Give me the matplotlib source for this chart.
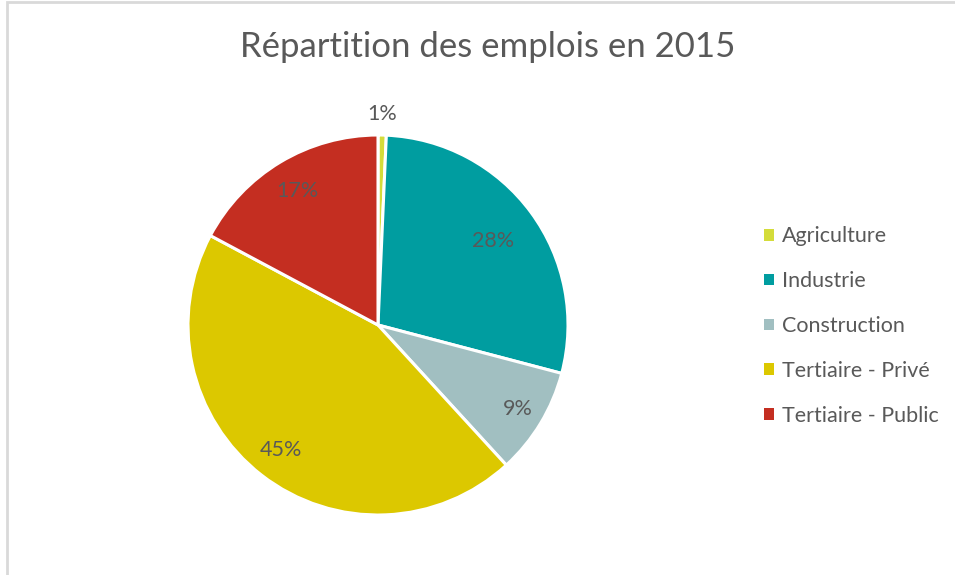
import numpy as np
import matplotlib.pyplot as plt
from matplotlib.patches import Rectangle

plt.rcParams['font.family'] = ['Lato', 'DejaVu Sans']

# Data
categories = ['Agriculture', 'Industrie', 'Construction', 'Tertiaire - Privé', 'Tertiaire - Public']
shares = [0.7, 28.4, 9.1, 44.6, 17.2]
colors = ['#d4dc3a', '#009da0', '#a1bfc1', '#dcc800', '#c42e21']

# label distance from centre (fraction of radius), Excel "best fit" look
label_dist = [1.11, 0.75, 0.86, 0.83, 0.82]
text_col = '#595959'

fig = plt.figure(figsize=(9.55, 5.75), dpi=100)

# light grey chart border (cropped on right/bottom)
fig.patches.append(Rectangle((6.5/955, -0.1), 1.2, (575-2.5)/575 + 0.1,
                             transform=fig.transFigure, fill=False,
                             edgecolor='#d9d9d9', linewidth=2))

ax = fig.add_axes([(378-190)/955, (250-190)/575, 380/955, 380/575])
wedges, texts, autotexts = ax.pie(shares, colors=colors, startangle=90, counterclock=False,
                                  autopct='%.0f%%', radius=1,
                                  wedgeprops=dict(edgecolor='white', linewidth=2.2),
                                  textprops=dict(color=text_col, fontsize=15.5))
for w, t, d in zip(wedges, autotexts, label_dist):
    ang = np.deg2rad((w.theta1 + w.theta2) / 2)
    t.set_position((d*np.cos(ang), d*np.sin(ang)))
ax.set_xlim(-1, 1)
ax.set_ylim(-1, 1)
ax.set_aspect('equal')
ax.axis('off')

fig.text(488/955, 1 - 47/575, 'Répartition des emplois en 2015', ha='center', va='center',
         fontsize=25, color=text_col)

leg = fig.legend(wedges, categories, loc='center left', bbox_to_anchor=(745/955, 1 - 326/575),
                 frameon=False, fontsize=15.5, handlelength=0.45, handleheight=0.45,
                 handletextpad=0.35, labelspacing=1.15, labelcolor=text_col)
for h in leg.legend_handles:
    h.set_edgecolor('none')

fig.savefig('out.png', dpi=100)
